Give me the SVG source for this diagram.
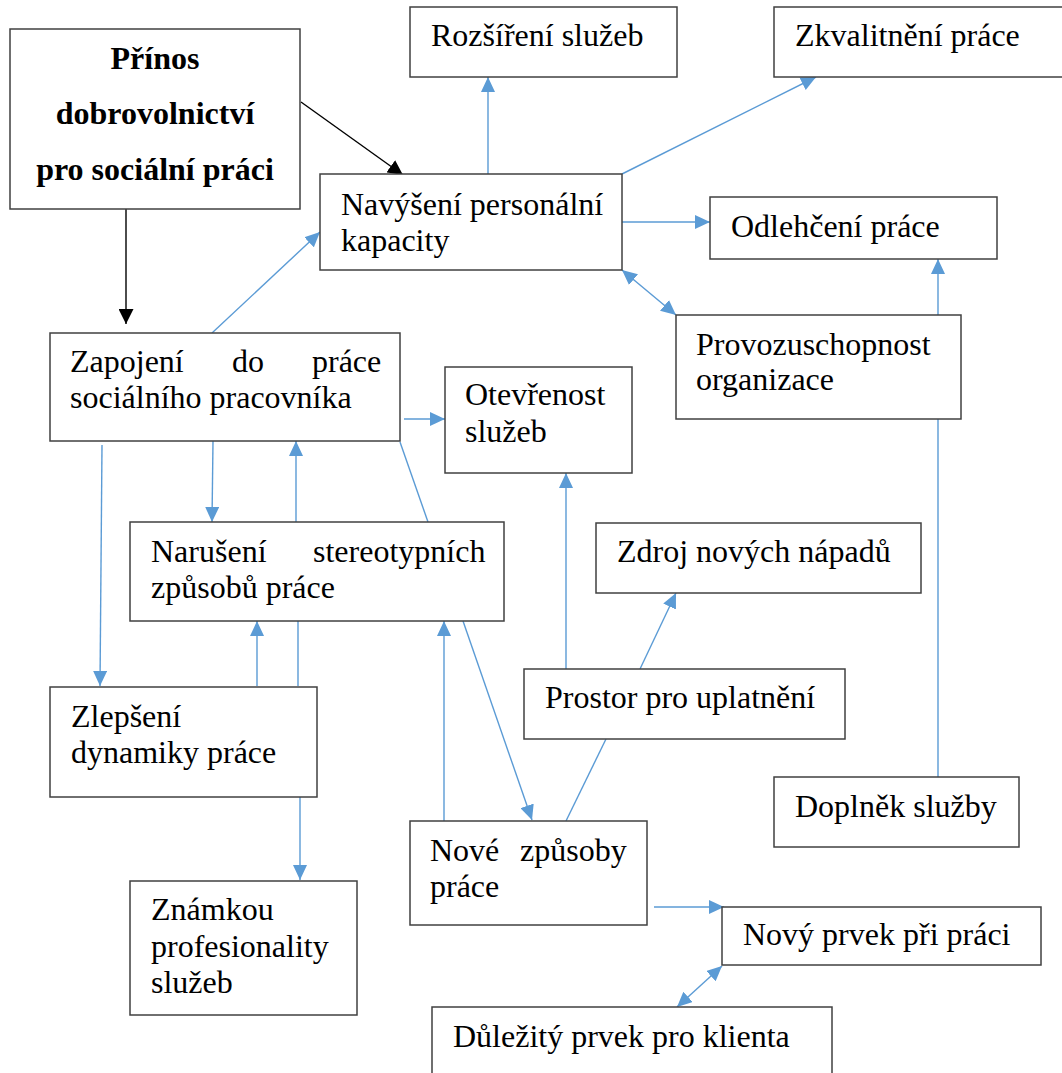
<svg xmlns="http://www.w3.org/2000/svg" width="1062" height="1073" viewBox="0 0 1062 1073">
<style>
.box{fill:#fff;stroke:#404040;stroke-width:1.5}
.t{font-family:"Liberation Serif","Times New Roman",serif;font-size:32px;fill:#000}
.tb{font-family:"Liberation Serif","Times New Roman",serif;font-size:32px;font-weight:bold;fill:#000;text-anchor:middle}
.c{stroke:#5B9BD5;stroke-width:1.4;fill:none}
.k{stroke:#000;stroke-width:1.4;fill:none}
.a{marker-end:url(#ab)}
.ak{marker-end:url(#ak)}
.d{marker-start:url(#ab);marker-end:url(#ab)}
</style>
<defs>
<marker id="ab" markerUnits="userSpaceOnUse" markerWidth="15" markerHeight="14" refX="15" refY="7" orient="auto-start-reverse" viewBox="0 0 15 14">
<path d="M0,0 L15,7 L0,14 z" fill="#5B9BD5"/>
</marker>
<marker id="ak" markerUnits="userSpaceOnUse" markerWidth="15" markerHeight="15" refX="15" refY="7.5" orient="auto" viewBox="0 0 15 15">
<path d="M0,0 L15,7.5 L0,15 z" fill="#000"/>
</marker>
</defs>
<rect width="1062" height="1073" fill="#fff"/>
<g id="connectors">
<line class="k ak" x1="301" y1="102" x2="403" y2="175"/>
<line class="k ak" x1="126" y1="209" x2="126" y2="324"/>
<line class="c a" x1="212" y1="333" x2="320" y2="232"/>
<line class="c a" x1="488" y1="174" x2="488" y2="77"/>
<line class="c a" x1="622" y1="174" x2="816" y2="77"/>
<line class="c a" x1="622" y1="222" x2="710" y2="222"/>
<line class="c d" x1="622" y1="270" x2="676" y2="315"/>
<line class="c a" x1="938" y1="315" x2="938" y2="259"/>
<line class="c" x1="938" y1="777" x2="938" y2="419"/>
<line class="c a" x1="404" y1="419" x2="445" y2="419"/>
<line class="c a" x1="213" y1="441" x2="212" y2="522"/>
<line class="c a" x1="296" y1="522" x2="296" y2="441"/>
<line class="c a" x1="102" y1="445" x2="100" y2="686"/>
<line class="c" x1="428" y1="522" x2="400" y2="442"/>
<line class="c a" x1="257" y1="686" x2="257" y2="621"/>
<line class="c" x1="298" y1="621" x2="298" y2="686"/>
<line class="c a" x1="300" y1="797" x2="300" y2="880"/>
<line class="c a" x1="444" y1="821" x2="444" y2="621"/>
<line class="c a" x1="463" y1="621" x2="532" y2="820"/>
<line class="c" x1="566" y1="821" x2="606" y2="739"/>
<line class="c a" x1="566" y1="669" x2="566" y2="473"/>
<line class="c a" x1="640" y1="669" x2="676" y2="593"/>
<line class="c a" x1="654" y1="907" x2="724" y2="907"/>
<line class="c d" x1="722" y1="966" x2="677" y2="1007"/>
</g>
<g id="n-prinos">
<rect class="box" x="10" y="29" width="290" height="180"/>
<text class="tb" x="155" y="69">Přínos</text>
<text class="tb" x="155" y="124">dobrovolnictví</text>
<text class="tb" x="155" y="180">pro sociální práci</text>
</g>
<g id="n-rozsireni">
<rect class="box" x="410" y="7" width="267" height="70"/>
<text class="t" x="431" y="46">Rozšíření služeb</text>
</g>
<g id="n-zkvalitneni">
<rect class="box" x="774" y="7" width="300" height="70"/>
<text class="t" x="795" y="46">Zkvalitnění práce</text>
</g>
<g id="n-navyseni">
<rect class="box" x="320" y="174" width="302" height="96"/>
<text class="t" x="341" y="215">Navýšení personální</text>
<text class="t" x="341" y="251">kapacity</text>
</g>
<g id="n-odlehceni">
<rect class="box" x="710" y="197" width="287" height="62"/>
<text class="t" x="731" y="237">Odlehčení práce</text>
</g>
<g id="n-provozuschopnost">
<rect class="box" x="676" y="315" width="285" height="104"/>
<text class="t" x="696" y="355">Provozuschopnost</text>
<text class="t" x="696" y="390">organizace</text>
</g>
<g id="n-zapojeni">
<rect class="box" x="50" y="333" width="350" height="108"/>
<text class="t" y="372"><tspan x="70">Zapojení</tspan><tspan x="232">do</tspan><tspan x="312">práce</tspan></text>
<text class="t" x="70" y="408">sociálního pracovníka</text>
</g>
<g id="n-otevrenost">
<rect class="box" x="445" y="367" width="187" height="106"/>
<text class="t" x="465" y="405">Otevřenost</text>
<text class="t" x="465" y="442">služeb</text>
</g>
<g id="n-naruseni">
<rect class="box" x="130" y="522" width="374" height="99"/>
<text class="t" y="562"><tspan x="151">Narušení</tspan><tspan x="313">stereotypních</tspan></text>
<text class="t" x="151" y="598">způsobů práce</text>
</g>
<g id="n-zdroj">
<rect class="box" x="596" y="523" width="325" height="70"/>
<text class="t" x="617" y="562">Zdroj nových nápadů</text>
</g>
<g id="n-prostor">
<rect class="box" x="524" y="669" width="321" height="70"/>
<text class="t" x="545" y="708">Prostor pro uplatnění</text>
</g>
<g id="n-zlepseni">
<rect class="box" x="50" y="687" width="267" height="110"/>
<text class="t" x="71" y="727">Zlepšení</text>
<text class="t" x="71" y="763">dynamiky práce</text>
</g>
<g id="n-znamkou">
<rect class="box" x="130" y="881" width="227" height="134"/>
<text class="t" x="151" y="920">Známkou</text>
<text class="t" x="151" y="957">profesionality</text>
<text class="t" x="151" y="993">služeb</text>
</g>
<g id="n-nove">
<rect class="box" x="410" y="821" width="237" height="104"/>
<text class="t" y="861"><tspan x="430">Nové</tspan><tspan x="520">způsoby</tspan></text>
<text class="t" x="430" y="897">práce</text>
</g>
<g id="n-doplnek">
<rect class="box" x="774" y="777" width="245" height="70"/>
<text class="t" x="795" y="817">Doplněk služby</text>
</g>
<g id="n-novy-prvek">
<rect class="box" x="722" y="907" width="319" height="58"/>
<text class="t" x="743" y="945">Nový prvek při práci</text>
</g>
<g id="n-dulezity">
<rect class="box" x="432" y="1007" width="400" height="80"/>
<text class="t" x="453" y="1047">Důležitý prvek pro klienta</text>
</g>
</svg>
